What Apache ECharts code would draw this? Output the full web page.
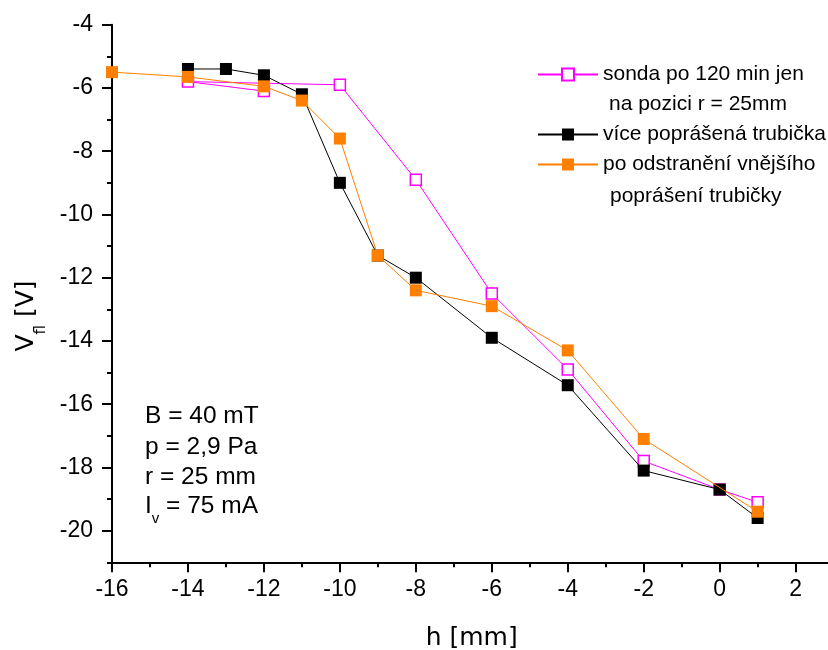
<!DOCTYPE html>
<html>
<head>
<meta charset="utf-8">
<script src="https://cdn.jsdelivr.net/npm/echarts@6/dist/echarts.min.js"></script>
<style>
html,body{margin:0;padding:0;background:#fff;overflow:hidden;}
#chart{width:828px;height:650px;}
</style>
</head>
<body>
<div id="chart"></div>
<script>
// ---- data ----
const seriesNames = [
  'sonda po 120 min jen\nna pozici r = 25mm',
  'více poprášená trubička',
  'po odstranění vnějšího\npoprášení trubičky'
];
const hMagenta = [-12, -14, -10, -8, -6, -4, -2, 0, 1];
const vMagenta = [-6.1, -5.8, -5.9, -8.9, -12.5, -14.9, -17.8, -18.7, -19.1];
const hBlack = [-14, -13, -12, -11, -10, -9, -8, -6, -4, -2, 0, 1];
const vBlack = [-5.4, -5.4, -5.6, -6.2, -9.0, -11.3, -12.0, -13.9, -15.4, -18.1, -18.7, -19.6];
const hOrange = [-16, -14, -12, -11, -10, -9, -8, -6, -4, -2, 1];
const vOrange = [-5.5, -5.65, -5.95, -6.4, -7.6, -11.3, -12.4, -12.9, -14.3, -17.1, -19.4];
const xMajorTicks = [-16, -14, -12, -10, -8, -6, -4, -2, 0, 2];
const xMinorTicks = [-15, -13, -11, -9, -7, -5, -3, -1, 1];
const yMajorTicks = [-20, -18, -16, -14, -12, -10, -8, -6, -4];
const yMinorTicks = [-21, -19, -17, -15, -13, -11, -9, -7, -5];
const annotationLines = ['B = 40 mT', 'p = 2,9 Pa', 'r = 25 mm'];

const pairs = (xs, ys) => xs.map((x, i) => [x, ys[i]]);
const FONT = '"Liberation Sans", Arial, sans-serif';
const TITLE_FONT = '"DejaVu Sans", sans-serif';

const chart = echarts.init(document.getElementById('chart'), null, {renderer: 'canvas'});

const axisBase = {
  type: 'value',
  splitLine: {show: false},
  axisLine: {show: true, onZero: false, lineStyle: {color: '#000', width: 2}},
};

function legendFor(name, top) {
  return {
    data: [name],
    left: 537, top: top, padding: 0,
    orient: 'vertical',
    itemWidth: 60, itemHeight: 15,
    selectedMode: false,
    formatter: (n) => n.split('\n')[0],
    textStyle: {fontFamily: FONT, fontSize: 21, color: '#000'}
  };
}

chart.setOption({
  animation: false,
  backgroundColor: '#fff',
  grid: {left: 112, top: 24.7, right: -5.6, bottom: 87.7, containLabel: false, outerBoundsMode: 'none'},
  xAxis: [
    Object.assign({}, axisBase, {
      position: 'bottom', min: -16, max: 3, interval: 1,
      axisTick: {show: true, length: 10, customValues: xMajorTicks, lineStyle: {color: '#000', width: 2}},
      axisLabel: {show: true, customValues: xMajorTicks, margin: 16, color: '#000', fontFamily: FONT, fontSize: 23}
    }),
    Object.assign({}, axisBase, {
      position: 'bottom', min: -16, max: 3, interval: 1,
      axisLine: {show: false, onZero: false},
      axisTick: {show: true, length: 5, customValues: xMinorTicks, lineStyle: {color: '#000', width: 2}},
      axisLabel: {show: false}
    })
  ],
  yAxis: [
    Object.assign({}, axisBase, {
      position: 'left', min: -21, max: -4, interval: 1,
      axisTick: {show: true, length: 10, customValues: yMajorTicks, lineStyle: {color: '#000', width: 2}},
      axisLabel: {show: true, customValues: yMajorTicks, margin: 19, color: '#000', fontFamily: FONT, fontSize: 23}
    }),
    Object.assign({}, axisBase, {
      position: 'left', min: -21, max: -4, interval: 1,
      axisLine: {show: false, onZero: false},
      axisTick: {show: true, length: 5, customValues: yMinorTicks, lineStyle: {color: '#000', width: 2}},
      axisLabel: {show: false}
    })
  ],
  legend: [
    legendFor(seriesNames[0], 64),
    legendFor(seriesNames[1], 124),
    legendFor(seriesNames[2], 154)
  ],
  series: [
    {
      name: seriesNames[0], type: 'line', data: pairs(hMagenta, vMagenta),
      symbol: 'rect', symbolSize: 11, z: 2,
      lineStyle: {color: '#ff00ff', width: 1},
      itemStyle: {color: '#ffffff', borderColor: '#ff00ff', borderWidth: 1.5}
    },
    {
      name: seriesNames[1], type: 'line', data: pairs(hBlack, vBlack),
      symbol: 'rect', symbolSize: 12, z: 3,
      lineStyle: {color: '#000000', width: 1},
      itemStyle: {color: '#000000'}
    },
    {
      name: seriesNames[2], type: 'line', data: pairs(hOrange, vOrange),
      symbol: 'rect', symbolSize: 12, z: 4,
      lineStyle: {color: '#ff8000', width: 1},
      itemStyle: {color: '#ff8000'}
    }
  ],
  graphic: [
    {type: 'text', x: 609, y: 104, style: {text: seriesNames[0].split('\n')[1], fontFamily: FONT, fontSize: 21, fill: '#000', align: 'left', verticalAlign: 'middle'}},
    {type: 'text', x: 610, y: 196.7, style: {text: seriesNames[2].split('\n')[1], fontFamily: FONT, fontSize: 21, fill: '#000', align: 'left', verticalAlign: 'middle'}},
    {type: 'text', x: 145, y: 416.7, style: {text: annotationLines[0], fontFamily: FONT, fontSize: 24.5, fill: '#000', align: 'left', verticalAlign: 'middle'}},
    {type: 'text', x: 145, y: 447.5, style: {text: annotationLines[1], fontFamily: FONT, fontSize: 24.5, fill: '#000', align: 'left', verticalAlign: 'middle'}},
    {type: 'text', x: 145, y: 477.5, style: {text: annotationLines[2], fontFamily: FONT, fontSize: 24.5, fill: '#000', align: 'left', verticalAlign: 'middle'}},
    {type: 'text', x: 145, y: 506.7, style: {
      text: '{a|I}{s|v}{a| = 75 mA}', align: 'left', verticalAlign: 'middle',
      rich: {
        a: {fontFamily: FONT, fontSize: 24.5, lineHeight: 40, verticalAlign: 'middle', fill: '#000'},
        s: {fontFamily: FONT, fontSize: 15, lineHeight: 15, verticalAlign: 'bottom', fill: '#000'}
      }
    }},
    {type: 'text', x: 471.7, y: 638, style: {text: 'h [mm]', fontFamily: TITLE_FONT, fontSize: 25, fill: '#000', align: 'center', verticalAlign: 'middle'}},
    {type: 'text', x: 26, y: 316, rotation: Math.PI / 2, style: {
      text: '{a|V}{s|fl}{a| [V]}', align: 'center', verticalAlign: 'middle',
      rich: {
        a: {fontFamily: TITLE_FONT, fontSize: 25, lineHeight: 46, verticalAlign: 'middle', fill: '#000'},
        s: {fontFamily: TITLE_FONT, fontSize: 15, lineHeight: 15, verticalAlign: 'bottom', fill: '#000'}
      }
    }}
  ]
});
</script>
</body>
</html>
